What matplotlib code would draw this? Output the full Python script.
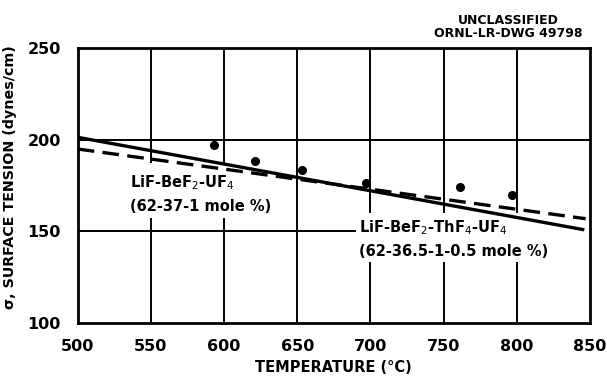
import matplotlib
matplotlib.use("Agg")
import matplotlib.pyplot as plt
from matplotlib.patches import Rectangle

# measured points
temp_pts = [593, 621, 653, 697, 761, 797]
sigma_pts = [197.3, 188.6, 183.7, 176.4, 174.3, 169.9]

# fitted lines (end points)
temp_solid = [500, 845]
sigma_solid = [201.4, 151.0]
temp_dash = [500, 847]
sigma_dash = [195.0, 156.9]

xticks = [500, 550, 600, 650, 700, 750, 800, 850]
yticks = [100, 150, 200, 250]

plt.rcParams['font.family'] = ['DejaVu Sans']

fig = plt.figure(figsize=(6.07, 3.78), dpi=100)
ax = fig.add_axes([0.128, 0.146, 0.844, 0.726])

for x in xticks[1:-1]:
    ax.axvline(x, color='black', lw=1.4, zorder=1)
for y in yticks[1:-1]:
    ax.axhline(y, color='black', lw=1.4, zorder=1)

# white patches behind the labels (grid is broken there)
ax.add_patch(Rectangle((535, 157.5), 103, 30, facecolor='white', edgecolor='none', zorder=2))
ax.add_patch(Rectangle((690, 133), 160, 27, facecolor='white', edgecolor='none', zorder=2))

ax.plot(temp_solid, sigma_solid, color='black', lw=2.4, zorder=3)
ax.plot(temp_dash, sigma_dash, color='black', lw=2.4, dashes=(5, 2.5), zorder=3)
ax.plot(temp_pts, sigma_pts, 'o', color='black', ms=5.5, zorder=4)

ax.text(536, 170.6, 'LiF-BeF$_2$-UF$_4$\n(62-37-1 mole %)', fontsize=10.5,
        fontweight='bold', va='center', ha='left', linespacing=1.6, zorder=5)
ax.text(692, 146.1, 'LiF-BeF$_2$-ThF$_4$-UF$_4$\n(62-36.5-1-0.5 mole %)', fontsize=10.5,
        fontweight='bold', va='center', ha='left', linespacing=1.6, zorder=5)

ax.set_xlim(500, 850)
ax.set_ylim(100, 250)
ax.set_xticks(xticks)
ax.set_yticks(yticks)
ax.tick_params(axis='x', length=0, labelsize=11.5, pad=12)
ax.tick_params(axis='y', length=0, labelsize=11.5, pad=12)
for lab in ax.get_xticklabels() + ax.get_yticklabels():
    lab.set_fontweight('bold')
for s in ax.spines.values():
    s.set_linewidth(2)
    s.set_zorder(6)

ax.set_xlabel('TEMPERATURE (°C)', fontsize=10.5, fontweight='bold')
ax.xaxis.set_label_coords(0.5, -0.135)
ax.set_ylabel('σ, SURFACE TENSION (dynes/cm)', fontsize=10.3, fontweight='bold')
ax.yaxis.set_label_coords(-0.118, 0.53)

fig.text(0.838, 0.947, 'UNCLASSIFIED', fontsize=9, fontweight='bold', ha='center', va='center')
fig.text(0.838, 0.912, 'ORNL-LR-DWG 49798', fontsize=9, fontweight='bold', ha='center', va='center')

fig.savefig('out.png', dpi=100)
